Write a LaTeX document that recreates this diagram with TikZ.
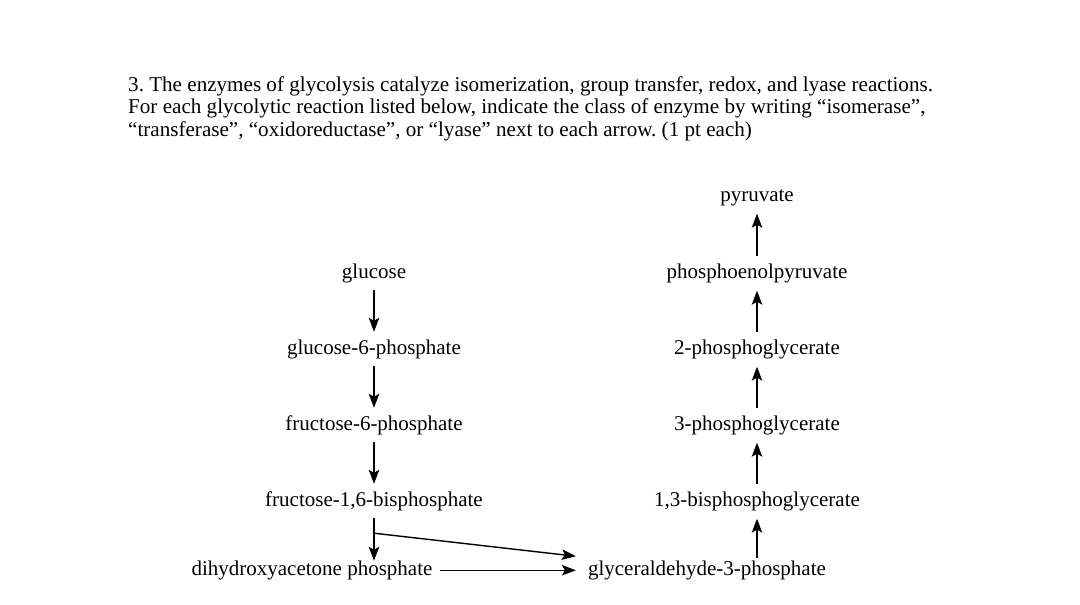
\documentclass[tikz,border=0pt]{standalone}
\usepackage{fontspec}
\setmainfont{Liberation Serif}
\usetikzlibrary{arrows.meta,calc}
\frenchspacing
\begin{document}
\begin{tikzpicture}[x=1pt,y=-1pt,
  lbl/.style={inner sep=0pt,text height=14pt,text depth=4.5pt,font=\fontsize{21}{24}\selectfont},
  rx/.style={line width=1.4pt,-{Stealth[length=14pt,width=10.5pt,inset=3pt]},shorten <=7pt,shorten >=8pt},
  ux/.style={line width=1.4pt,-{Stealth[length=14pt,width=10.5pt,inset=3pt]}}]
\useasboundingbox (0,0) rectangle (1080,605);
\node[anchor=north west,inner sep=0pt,align=left,font=\fontsize{21.1}{22.5}\selectfont] (title) at (128,76)
 {3. The enzymes of glycolysis catalyze isomerization, group transfer, redox, and lyase reactions.\\
 For each glycolytic reaction listed below, indicate the class of enzyme by writing “isomerase”,\\
 “transferase”, “oxidoreductase”, or “lyase” next to each arrow. (1 pt each)};
% left column
\node[lbl,anchor=base] (glc) at (374,278) {glucose};
\node[lbl,anchor=base] (g6p) at (374,354) {glucose-6-phosphate};
\node[lbl,anchor=base] (f6p) at (374,430) {fructose-6-phosphate};
\node[lbl,anchor=base] (fbp) at (374,506) {fructose-1,6-bisphosphate};
\node[lbl,anchor=base] (dhap) at (312,575) {dihydroxyacetone phosphate};
% right column
\node[lbl,anchor=base] (pyr) at (757,201) {pyruvate};
\node[lbl,anchor=base] (pep) at (757,278) {phosphoenolpyruvate};
\node[lbl,anchor=base] (pg2) at (757,354) {2-phosphoglycerate};
\node[lbl,anchor=base] (pg3) at (757,430) {3-phosphoglycerate};
\node[lbl,anchor=base] (bpg) at (757,506) {1,3-bisphosphoglycerate};
\node[lbl,anchor=base] (gap) at (707,575) {glyceraldehyde-3-phosphate};
% left arrows
\draw[rx] (glc.south) -- (g6p.north);
\draw[rx] (g6p.south) -- (f6p.north);
\draw[rx] (f6p.south) -- (fbp.north);
\draw[rx,shorten >=0pt] (fbp.south) -- (fbp.south |- dhap.north);
\coordinate (split) at ($(fbp.south)+(0,22.5)$);
\coordinate (tip) at ($(gap.west)+(-12,-14)$);
\draw[ux] (split) -- (tip);
\draw[rx,shorten >=12pt] (dhap.east) -- (gap.west);
% right arrows
\draw[ux] ($(gap.north -| bpg.south)+(0,-3)$) -- ($(bpg.south)+(0,8)$);
\draw[ux] ($(bpg.north)+(0,-8)$) -- ($(pg3.south)+(0,8)$);
\draw[ux] ($(pg3.north)+(0,-8)$) -- ($(pg2.south)+(0,8)$);
\draw[ux] ($(pg2.north)+(0,-8)$) -- ($(pep.south)+(0,8)$);
\draw[ux] ($(pep.north)+(0,-8)$) -- ($(pyr.south)+(0,8)$);
\end{tikzpicture}
\end{document}
